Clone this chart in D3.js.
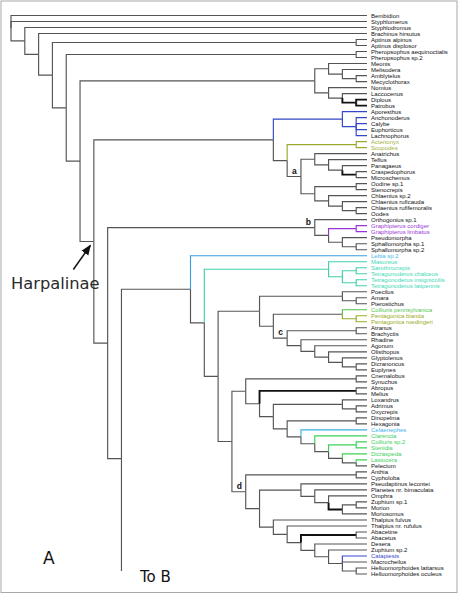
<!DOCTYPE html>
<html><head><meta charset="utf-8">
<script src="https://cdn.jsdelivr.net/npm/d3@7"></script>
<style>body{margin:0;background:#fff}svg{display:block}</style>
</head><body><svg id="c" width="458" height="594"></svg>
<script>
// ---------- DATA ----------
// Tree topology (Newick). "@x" = clade letter, "!" = bold branch, "^n" = depth of a collapsed part
const cladeMeonis = "((Meonis,(Melisodera,(Amblytelus,Mecyclothorax))),(Nomius,(Laccocenus,(Diplous!,Patrobus!)!)))";
const cladeLachno = "(Aporesthus,(Anchonoderus,Calybe,Euphorticus,Lachnophorus))";
const cladeA = "((Anatrichus,(Teflus,(Panagaeus,(Craspedophorus,Microschemus)!))),((Oodine sp.1,Stenocrepis),(Chlaenius sp.2,(Chlaenius ruficauda,(Chlaenius rufifemoralis,Oodes)))))@a";
const cladeB = "(Orthogonius sp.1,((Graphipterus cordiger,Graphipterus limbatus),(Pseudomorpha,(Sphallomorpha sp.1,Sphallomorpha sp.2))))@b";
const cladeMasoreus = "(Masoreus,((Sarothrocrepis,Tetragonoderus chalceus),(Tetragonoderus insignicollis,Tetragonoderus latipennis)))";
const cladeC = "((Atranus,Brachyctis),(Rhadine,(Agonum,(Olisthopus,(Glyptolenus,(Dicranoncus,Euplynes))))))@c";
const cladePoecilus = "((Poecilus,(Amara,Pterostichus)),((Colliuris pennsylvanica,(Pentagonica blanda,Pentagonica roedingeri)),"+cladeC+"))";
const cladeAbropus = "((Cnemalobus,Synuchus),((Abropus,Melius)!,((Loxandrus,(Adrimus,Oxycrepis)),((Dinopelma,Hexagonia),(Celaenephes,(Clarencia,((Colliuris sp.2,Stenidia),(Dicraspeda,(Lasiocera,Pelecium)))))))))";
const cladeD = "((Anthia,Cypholoba),((Pseudaptinus lecontei,(Planetes nr. bimaculata,(Omphra,((Zuphium sp.1,Morion),Moriosomus)!))),(Thalpius fulvus,(Thalpius nr. rufulus,((Abacetine,Abacetus)!,(Desera,(Zuphium sp.2,(Catapiesis,Macrocheilus,(Helluomorphoides lattarsus,Helluomorphoides oculeus)))))))))@d";
const cladeL = "(Lebia sp.2,("+cladeMasoreus+",("+cladePoecilus+",("+cladeAbropus+","+cladeD+"))))";
const treeNewick = "(Bembidion,Styphlomerus,(Styphlodromus,(Brachinus hirsutus,((Aptinus alpinus,Aptinus displosor),((Pheropsophus aequinoctialis,Pheropsophus sp.2),("+cladeMeonis+",(("+cladeLachno+",((Actenonyx,Scopodes),"+cladeA+")),("+cladeB+",("+cladeL+",To B^17))))))))));";

// Colour groups (branch colour, label colour) and members
const groupNames = ["blue","olive","purple","lebia","turq","green1","pent","celae","green2","catap"];
const groupBranch = ["#3447c6","#9aa82c","#9935d4","#3a9fe0","#3fd0ae","#4fc24a","#9aaa24","#3aaee6","#3ccf58","#3a46cf"];
const groupLabel  = ["#111111","#a3b03a","#9a3ad6","#46b6ec","#3ed8b6","#52c64c","#9aab24","#3fb4ec","#3cd05c","#3a46cf"];
const groupMembers = [
  ["Aporesthus","Anchonoderus","Calybe","Euphorticus","Lachnophorus"],
  ["Actenonyx","Scopodes"],
  ["Graphipterus cordiger","Graphipterus limbatus"],
  ["Lebia sp.2"],
  ["Masoreus","Sarothrocrepis","Tetragonoderus chalceus","Tetragonoderus insignicollis","Tetragonoderus latipennis"],
  ["Colliuris pennsylvanica"],
  ["Pentagonica blanda","Pentagonica roedingeri"],
  ["Celaenephes"],
  ["Clarencia","Colliuris sp.2","Stenidia","Dicraspeda","Lasiocera"],
  ["Catapiesis"]
];

// ---------- PARSE ----------
function parseNewick(s){
  let i=0;
  function node(){
    const n={children:[]};
    if(s[i]==='('){
      i++;
      n.children.push(node());
      while(s[i]===','){ i++; n.children.push(node()); }
      i++; // ')'
    }
    let raw='';
    while(i<s.length && !',);'.includes(s[i])) raw+=s[i++];
    const cl=raw.match(/@(\w)/); n.clade=cl?cl[1]:null; raw=raw.replace(/@\w/,'');
    n.thick=raw.includes('!'); raw=raw.replace('!','');
    const ex=raw.match(/\^(\d+)/); n.extra=ex?+ex[1]:0; raw=raw.replace(/\^\d+/,'');
    n.name=raw.trim();
    if(!n.children.length) delete n.children;
    return n;
  }
  return node();
}
const root=d3.hierarchy(parseNewick(treeNewick));

const leafGroup=new Map();
groupMembers.forEach((m,gi)=>m.forEach(n=>leafGroup.set(n,gi)));

// ---------- LAYOUT ----------
root.eachAfter(d=>{ d.h = d.children ? 1+d3.max(d.children,c=>c.h) : d.data.extra; });
const tips=root.leaves().filter(d=>!d.data.extra);
const stub=root.leaves().find(d=>d.data.extra);
const x=d3.scaleLinear().domain([root.h,0]).range([11,370]);
const y=d3.scaleLinear().domain([0,tips.length-1]).range([15.5,574]);
tips.forEach((d,i)=>d.yy=y(i));
stub.yy=y(tips.length-1+9);
root.eachAfter(d=>{
  if(d.children){ d.yy=(d.children[0].yy+d.children[d.children.length-1].yy)/2; }
  d.xx=x(d.h);
  const gs=new Set(d.leaves().map(l=>leafGroup.has(l.data.name)?leafGroup.get(l.data.name):-1));
  d.grp = gs.size===1 ? [...gs][0] : -1;
});

// ---------- DRAW ----------
const svg=d3.select("#c");
svg.append("rect").attr("x",1).attr("y",1).attr("width",456).attr("height",591.5)
  .attr("fill","none").attr("stroke","#a8a8a8").attr("stroke-width",1);

const g=svg.append("g");
const bottomY=571;
root.descendants().filter(d=>d.parent).forEach(d=>{
  const p=d.parent;
  let path;
  if(d===stub) path=`M${p.xx},${p.yy}V${bottomY}`;
  else if(!d.children) path=`M${p.xx},${p.yy}V${d.yy}H${x(0)-3}`;
  else path=`M${p.xx},${p.yy}V${d.yy}H${d.xx}`;
  g.append("path").attr("d",path).attr("fill","none")
   .attr("stroke", d.grp>=0 ? groupBranch[d.grp] : (d.data.thick ? "#111" : "#555"))
   .attr("stroke-width", d.data.thick ? 1.9 : 1.15);
});

g.selectAll("text.tip").data(tips).join("text").attr("class","tip")
  .attr("x",x(0)+1).attr("y",d=>d.yy).attr("dy","0.35em")
  .attr("font-family","'Liberation Sans',Arial,sans-serif").attr("font-size",6)
  .attr("fill",d=>leafGroup.has(d.data.name)?groupLabel[leafGroup.get(d.data.name)]:"#111")
  .text(d=>d.data.name);

g.selectAll("text.clade").data(root.descendants().filter(d=>d.data.clade)).join("text")
  .attr("class","clade").attr("x",d=>d.xx-6.5).attr("y",d=>d.yy-3)
  .attr("text-anchor","middle").attr("font-family","'Liberation Sans',Arial,sans-serif")
  .attr("font-weight","bold").attr("font-size",8.5).attr("fill","#111").text(d=>d.data.clade);

// Harpalinae node
const harp=root.descendants().find(d=>d.children && d.children.some(c=>c.data.clade==='b')).parent;
const tip=[harp.xx-3.5, harp.yy+4];
svg.append("defs").append("marker").attr("id","ah").attr("viewBox","0 0 10 10")
  .attr("refX",9).attr("refY",5).attr("markerWidth",7).attr("markerHeight",7).attr("orient","auto")
  .append("path").attr("d","M0,1L10,5L0,9Z").attr("fill","#111");
svg.append("line").attr("x1",tip[0]-17).attr("y1",tip[1]+24).attr("x2",tip[0]).attr("y2",tip[1])
  .attr("stroke","#111").attr("stroke-width",1.5).attr("marker-end","url(#ah)");
svg.append("text").attr("x",11).attr("y",289).attr("font-family","'DejaVu Sans',sans-serif")
  .attr("font-size",16.3).attr("fill","#2a2a2a").text("Harpalinae");
svg.append("text").attr("x",43).attr("y",564).attr("font-family","'DejaVu Sans',sans-serif")
  .attr("font-size",17).attr("fill","#111").text("A");
svg.append("text").attr("x",140).attr("y",581.5).attr("font-family","'DejaVu Sans',sans-serif")
  .attr("font-size",15).attr("fill","#111").text("To B");
</script></body></html>
